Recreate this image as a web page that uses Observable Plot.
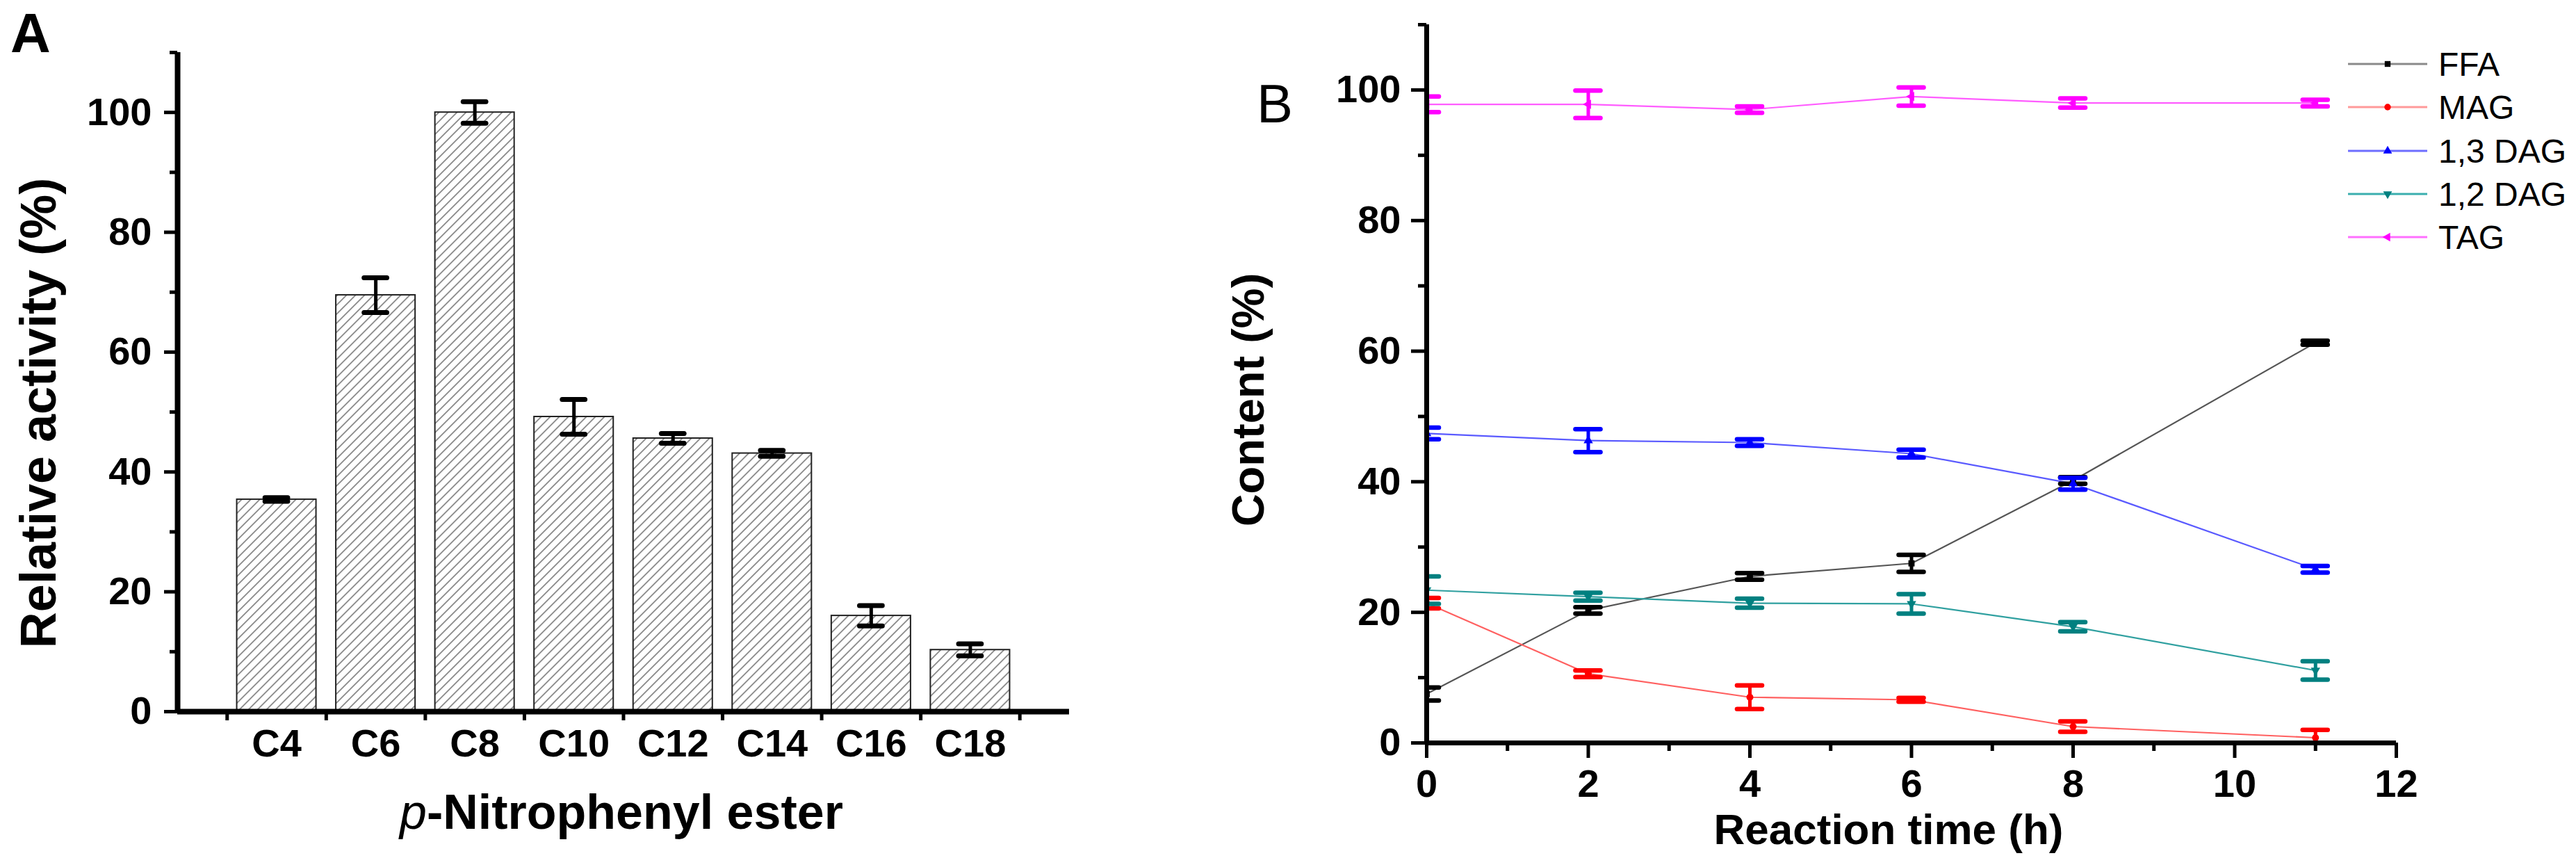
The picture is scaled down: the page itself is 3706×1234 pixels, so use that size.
<!DOCTYPE html>
<html>
<head>
<meta charset="utf-8">
<script src="https://cdn.jsdelivr.net/npm/d3@7"></script>
<script src="https://cdn.jsdelivr.net/npm/@observablehq/plot@0.6"></script>
<style>
  html, body { margin: 0; padding: 0; background: #fff; }
  #root { position: relative; width: 3706px; height: 1234px; overflow: hidden; background: #fff; font-family: "Liberation Sans", Arial, sans-serif; }
  #root > svg, #root > div { position: absolute; top: 0; }
</style>
</head>
<body>
<div id="root"></div>
<script>
// ---------- Panel A data ----------
const esters = ["C4", "C6", "C8", "C10", "C12", "C14", "C16", "C18"];
const activity = [35.4, 69.5, 100.0, 49.2, 45.6, 43.1, 16.0, 10.3];
const activityErr = [0.3, 2.9, 1.8, 2.9, 0.8, 0.5, 1.7, 1.0];

// ---------- Panel B data ----------
const times = [0, 2, 4, 6, 8, 11];
const seriesNames = ["FFA", "MAG", "1,3 DAG", "1,2 DAG", "TAG"];
const ffa = [7.5, 20.3, 25.5, 27.5, 40.2, 61.3];
const ffaErr = [1.0, 0.5, 0.5, 1.3, 0.5, 0.3];
const mag = [21.4, 10.6, 7.0, 6.6, 2.5, 0.8];
const magErr = [0.8, 0.5, 1.8, 0.3, 0.8, 1.2];
const dag13 = [47.4, 46.3, 46.0, 44.3, 39.7, 26.6];
const dag13Err = [0.9, 1.75, 0.5, 0.6, 0.9, 0.5];
const dag12 = [23.4, 22.4, 21.4, 21.3, 17.8, 11.1];
const dag12Err = [2.1, 0.6, 0.7, 1.5, 0.7, 1.4];
const tag = [97.8, 97.8, 97.0, 99.0, 98.0, 98.0];
const tagErr = [1.2, 2.1, 0.5, 1.4, 0.7, 0.5];

// tick values
const yTicksMajor = [0, 20, 40, 60, 80, 100];
const yTicksMinor = [10, 30, 50, 70, 90, 110];
const xTicksBMajor = [0, 2, 4, 6, 8, 10, 12];
const xTicksBMinor = [1, 3, 5, 7, 9, 11];

// ---------- styles ----------
const FONT = "Liberation Sans, Arial, sans-serif";
const pointColors = ["#000000", "#ff0000", "#0000ff", "#008080", "#ff00ff"];
const lineColors = ["#555555", "#ff6060", "#5a5aff", "#30a0a0", "#ff5cff"];
const legendLineColors = ["#8a8a8a", "#ff9a9a", "#6e6eff", "#3aaeae", "#ff70ff"];

// custom symbols
const triDown = {
  draw(ctx, size) {
    const y = -Math.sqrt(size / (Math.sqrt(3) * 3));
    ctx.moveTo(0, -y * 2);
    ctx.lineTo(-Math.sqrt(3) * y, y);
    ctx.lineTo(Math.sqrt(3) * y, y);
    ctx.closePath();
  }
};
const triLeft = {
  draw(ctx, size) {
    const y = -Math.sqrt(size / (Math.sqrt(3) * 3));
    ctx.moveTo(y * 2, 0);
    ctx.lineTo(-y, -Math.sqrt(3) * y);
    ctx.lineTo(-y, Math.sqrt(3) * y);
    ctx.closePath();
  }
};
const symbols = [d3.symbolSquare, d3.symbolCircle, d3.symbolTriangle, triDown, triLeft];

const root = document.getElementById("root");

// ================= Panel A =================
const bars = esters.map((name, i) => ({name, pos: i + 1, value: activity[i], err: activityErr[i]}));
const bandTicks = d3.range(esters.length + 1).map(i => i + 0.5);
const capA = 0.115, halfBar = 0.4;

const plotA = Plot.plot({
  width: 1750, height: 1234,
  marginLeft: 255, marginRight: 212, marginTop: 75, marginBottom: 211,
  style: {background: "transparent", fontFamily: FONT, overflow: "visible"},
  x: {domain: [0, esters.length + 1], label: null},
  y: {domain: [0, 110], label: null},
  marks: [
    Plot.rect(bars, {x1: d => d.pos - halfBar, x2: d => d.pos + halfBar, y1: 0, y2: "value",
      fill: "url(#hatchA)", stroke: "#222", strokeWidth: 2}),
    Plot.ruleX(bars, {x: "pos", y1: d => d.value - d.err, y2: d => d.value + d.err, stroke: "#000", strokeWidth: 5}),
    Plot.ruleY(bars, {y: d => d.value + d.err, x1: d => d.pos - capA, x2: d => d.pos + capA, stroke: "#000", strokeWidth: 7, strokeLinecap: "round"}),
    Plot.ruleY(bars, {y: d => d.value - d.err, x1: d => d.pos - capA, x2: d => d.pos + capA, stroke: "#000", strokeWidth: 7, strokeLinecap: "round"}),
    Plot.axisY({ticks: yTicksMajor, tickSize: 19, tickPadding: 18, fontSize: 56, fontWeight: "bold", strokeWidth: 5, label: null, fill: "#000"}),
    Plot.axisY({ticks: yTicksMinor, tickSize: 11, tickFormat: () => "", strokeWidth: 5, label: null}),
    Plot.axisX({ticks: bandTicks, tickSize: 13, tickFormat: () => "", strokeWidth: 5, label: null}),
    Plot.axisX({ticks: bars.map(d => d.pos), tickSize: 0, tickPadding: 25, tickFormat: d => esters[d - 1], fontSize: 56, fontWeight: "bold", label: null, fill: "#000"}),
    Plot.ruleX([0], {y1: 0, y2: 110, stroke: "#000", strokeWidth: 8}),
    Plot.ruleY([0], {stroke: "#000", strokeWidth: 8})
  ]
});
// hatch pattern (45° diagonal lines)
d3.select(plotA).insert("defs", ":first-child").html(
  `<pattern id="hatchA" patternUnits="userSpaceOnUse" width="13" height="13">
     <rect width="13" height="13" fill="#fff"/>
     <path d="M-2,15 L15,-2 M-4,4 L4,-4 M9,17 L17,9" stroke="#8a8a8a" stroke-width="1.8"/>
   </pattern>`);
plotA.style.left = "0px";
root.appendChild(plotA);

// ================= Panel B =================
const valuesB = [ffa, mag, dag13, dag12, tag];
const errsB = [ffaErr, magErr, dag13Err, dag12Err, tagErr];
const rowsB = seriesNames.map((name, s) => times.map((t, i) => ({series: name, s, t, v: valuesB[s][i], e: errsB[s][i]})));
const capB = 0.155;

const marksB = [];
rowsB.forEach((rows, s) => {
  marksB.push(Plot.line(rows, {x: "t", y: "v", stroke: lineColors[s], strokeWidth: 2.2}));
});
rowsB.forEach((rows, s) => {
  const c = pointColors[s];
  marksB.push(
    Plot.ruleX(rows, {x: "t", y1: d => d.v - d.e, y2: d => d.v + d.e, stroke: c, strokeWidth: 5, clip: true}),
    Plot.ruleY(rows, {y: d => d.v + d.e, x1: d => d.t - capB, x2: d => d.t + capB, stroke: c, strokeWidth: 6.5, strokeLinecap: "round", clip: true}),
    Plot.ruleY(rows, {y: d => d.v - d.e, x1: d => d.t - capB, x2: d => d.t + capB, stroke: c, strokeWidth: 6.5, strokeLinecap: "round", clip: true}),
    Plot.dot(rows, {x: "t", y: "v", symbol: symbols[s], fill: c, r: 5, clip: true})
  );
});

const plotB = Plot.plot({
  width: 1956, height: 1234,
  marginLeft: 302, marginRight: 259, marginTop: 35, marginBottom: 166,
  style: {background: "transparent", fontFamily: FONT, overflow: "visible"},
  x: {domain: [0, 12], label: null},
  y: {domain: [0, 110], label: null},
  marks: [
    ...marksB,
    Plot.axisY({ticks: yTicksMajor, tickSize: 22, tickPadding: 15, fontSize: 56, fontWeight: "bold", strokeWidth: 5, label: null, fill: "#000"}),
    Plot.axisY({ticks: yTicksMinor, tickSize: 12, tickFormat: () => "", strokeWidth: 5, label: null}),
    Plot.axisX({ticks: xTicksBMajor, tickSize: 22, tickPadding: 16, fontSize: 56, fontWeight: "bold", strokeWidth: 5, label: null, fill: "#000"}),
    Plot.axisX({ticks: xTicksBMinor, tickSize: 12, tickFormat: () => "", strokeWidth: 5, label: null}),
    Plot.ruleX([0], {y1: 0, y2: 110, stroke: "#000", strokeWidth: 7}),
    Plot.ruleY([0], {stroke: "#000", strokeWidth: 7})
  ]
});
plotB.style.left = "1750px";
root.appendChild(plotB);

// ================= Overlay: titles, panel letters, legend =================
const ov = d3.select(root).append("svg")
  .attr("width", 3706).attr("height", 1234)
  .style("left", "0px").style("pointer-events", "none")
  .style("font-family", FONT);

ov.append("text").attr("x", 15).attr("y", 75).attr("font-size", 80).attr("font-weight", "bold").text("A");
ov.append("text").attr("x", 1808).attr("y", 176).attr("font-size", 78).text("B");

ov.append("text").attr("transform", "translate(80,594) rotate(-90)").attr("text-anchor", "middle")
  .attr("font-size", 72).attr("font-weight", "bold").text("Relative activity (%)");

const xt = ov.append("text").attr("x", 894).attr("y", 1192).attr("text-anchor", "middle")
  .attr("font-size", 70).attr("font-weight", "bold");
xt.append("tspan").attr("font-style", "italic").attr("font-weight", "normal").text("p");
xt.append("tspan").text("-Nitrophenyl ester");

ov.append("text").attr("transform", "translate(1818,575) rotate(-90)").attr("text-anchor", "middle")
  .attr("font-size", 65).attr("font-weight", "bold").text("Content (%)");
ov.append("text").attr("x", 2717).attr("y", 1214).attr("text-anchor", "middle")
  .attr("font-size", 62).attr("font-weight", "bold").text("Reaction time (h)");

// legend
const legendRows = [92, 154, 217, 279, 341];
seriesNames.forEach((name, s) => {
  const y = legendRows[s];
  ov.append("line").attr("x1", 3378).attr("x2", 3492).attr("y1", y).attr("y2", y)
    .attr("stroke", legendLineColors[s]).attr("stroke-width", 3);
  ov.append("path").attr("transform", `translate(3435,${y})`)
    .attr("d", d3.symbol().type(symbols[s]).size(70)()).attr("fill", pointColors[s]);
  ov.append("text").attr("x", 3508).attr("y", y).attr("dy", "0.36em")
    .attr("font-size", 48).text(name);
});
</script>
</body>
</html>
